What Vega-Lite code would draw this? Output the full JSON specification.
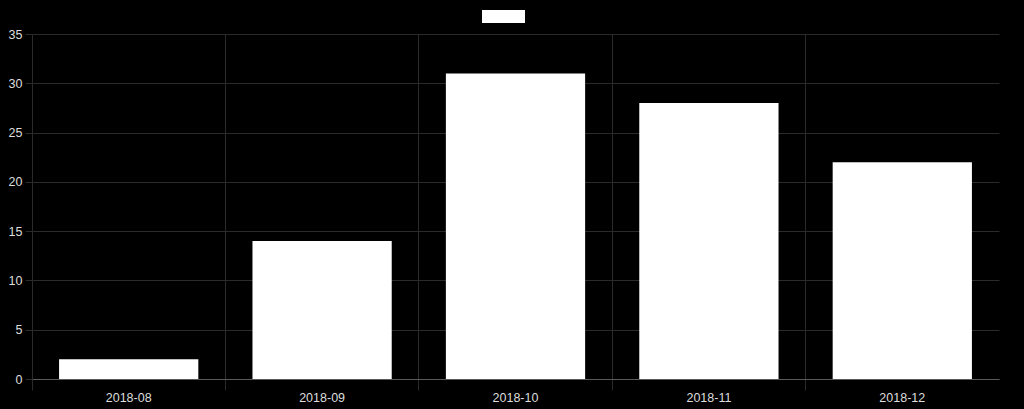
{
  "$schema": "https://vega.github.io/schema/vega-lite/v6.json",
  "background": "black",
  "autosize": {"type": "none"},
  "padding": {"left": 32, "top": 34, "right": 25, "bottom": 30},
  "width": 967,
  "height": 345,
  "data": {
    "values": [
      {"month": "2018-08", "count": 2, "series": ""},
      {"month": "2018-09", "count": 14, "series": ""},
      {"month": "2018-10", "count": 31, "series": ""},
      {"month": "2018-11", "count": 28, "series": ""},
      {"month": "2018-12", "count": 22, "series": ""}
    ]
  },
  "mark": {"type": "bar", "fill": "white"},
  "encoding": {
    "x": {
      "field": "month", "type": "ordinal", "title": null,
      "scale": {"paddingInner": 0.28, "paddingOuter": 0.14},
      "axis": {
        "labelAngle": 0, "bandPosition": -0.19444, "grid": true,
        "tickSize": 11, "domainColor": "#5a5a5a", "labelPadding": 1
      }
    },
    "y": {
      "field": "count", "type": "quantitative", "title": null,
      "scale": {"domain": [0, 35]},
      "axis": {"values": [0, 5, 10, 15, 20, 25, 30, 35], "tickSize": 7, "domain": false, "labelPadding": 3}
    },
    "color": {
      "field": "series", "type": "nominal",
      "scale": {"range": ["white"]},
      "legend": {
        "orient": "none", "legendX": 450, "legendY": -39,
        "symbolType": "M-1,-0.3H1V0.3H-1Z", "symbolSize": 1849,
        "symbolFillColor": "white", "symbolStrokeWidth": 0,
        "labelExpr": "''", "title": null
      }
    }
  },
  "config": {
    "view": {"stroke": null},
    "axis": {
      "gridColor": "#2b2b2b", "tickColor": "#2b2b2b",
      "labelColor": "#dddddd", "labelFont": "Liberation Sans", "labelFontSize": 12.5
    }
  }
}
